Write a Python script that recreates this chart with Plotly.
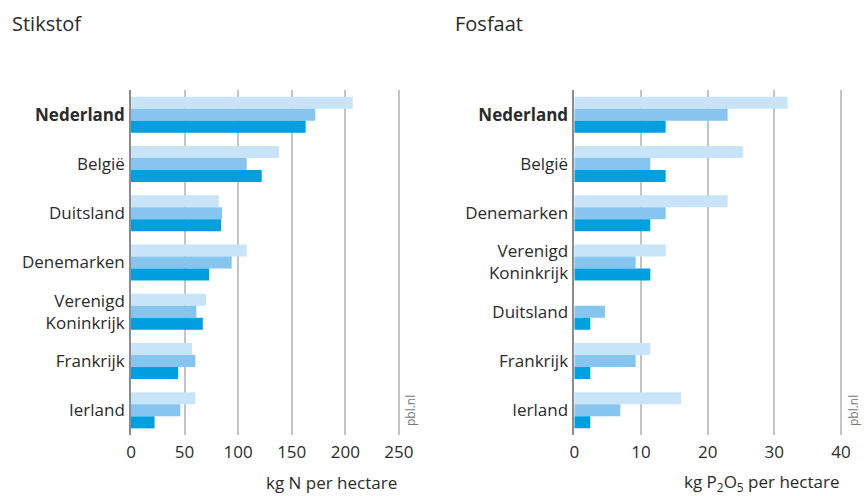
import plotly.graph_objects as go

# ---- data ----
landen_n = ["Nederland", "België", "Duitsland", "Denemarken",
            "Verenigd Koninkrijk", "Frankrijk", "Ierland"]
n_serie1 = [207, 138, 82, 108, 70, 57, 60]
n_serie2 = [172, 108, 85, 94, 61, 60, 46]
n_serie3 = [163, 122, 84, 73, 67, 44, 22]

landen_p = ["Nederland", "België", "Denemarken", "Verenigd Koninkrijk",
            "Duitsland", "Frankrijk", "Ierland"]
p_serie1 = [32, 25.3, 23, 13.7, 0, 11.4, 16]
p_serie2 = [23, 11.4, 13.7, 9.2, 4.6, 9.2, 6.9]
p_serie3 = [13.7, 13.7, 11.4, 11.4, 2.4, 2.4, 2.4]

serie_namen = ["Periode 1", "Periode 2", "Periode 3"]
kleuren = ["#c8e4f8", "#85c5ef", "#009fe0"]

n_ticks = [0, 50, 100, 150, 200, 250]
p_ticks = [0, 10, 20, 30, 40]


def label(c):
    if c == "Nederland":
        return "<b>Nederland</b>"
    if c == "Verenigd Koninkrijk":
        return "Verenigd<br>Koninkrijk"
    return c


FONT = "Open Sans"
TXT = "#2b2b2b"

W, H = 864, 496


def px(x):
    return x / W


def py(y):
    return 1 - y / H


fig = go.Figure()
for vals, name, col in zip([n_serie1, n_serie2, n_serie3], serie_namen, kleuren):
    fig.add_trace(go.Bar(y=landen_n, x=vals, orientation="h", name=name,
                         marker=dict(color=col, line=dict(width=0)),
                         xaxis="x", yaxis="y", showlegend=False))
for vals, name, col in zip([p_serie1, p_serie2, p_serie3], serie_namen, kleuren):
    fig.add_trace(go.Bar(y=landen_p, x=vals, orientation="h", name=name,
                         marker=dict(color=col, line=dict(width=0)),
                         xaxis="x2", yaxis="y2", showlegend=False))

y_dom = [py(435), py(90)]

xcommon = dict(showgrid=True, gridcolor="#c4c4c4", gridwidth=1.6,
               zeroline=False, showline=False, ticks="", automargin=False,
               ticklabelstandoff=5,
               tickfont=dict(family=FONT, size=17, color=TXT), fixedrange=True)
ycommon = dict(autorange="reversed", showgrid=False, zeroline=False,
               showline=True, linecolor="#8c8c8c", linewidth=1.6, ticks="",
               automargin=False, ticklabelstandoff=1, fixedrange=True,
               tickfont=dict(family=FONT, size=17, color=TXT))

fig.update_layout(
    width=W, height=H,
    margin=dict(l=0, r=0, t=0, b=0, pad=0, autoexpand=False),
    paper_bgcolor="white", plot_bgcolor="white",
    barmode="group", bargap=0.27, bargroupgap=0,
    font=dict(family=FONT, color=TXT),
    xaxis=dict(domain=[px(131), px(401)], range=[0, 252],
               tickvals=n_ticks, anchor="y", **xcommon),
    yaxis=dict(domain=y_dom, anchor="x", tickmode="array",
               tickvals=landen_n, ticktext=[label(c) for c in landen_n],
               **ycommon),
    xaxis2=dict(domain=[px(574.3), px(843)], range=[0, 40.3],
                tickvals=p_ticks, anchor="y2", **xcommon),
    yaxis2=dict(domain=y_dom, anchor="x2", tickmode="array",
                tickvals=landen_p, ticktext=[label(c) for c in landen_p],
                **ycommon),
)

annots = [
    dict(text="Stikstof", x=px(10), y=py(24), xanchor="left", yanchor="middle",
         font=dict(size=20, family=FONT, color=TXT)),
    dict(text="Fosfaat", x=px(453), y=py(24), xanchor="left", yanchor="middle",
         font=dict(size=20, family=FONT, color=TXT)),
    dict(text="kg N per hectare", x=px(399), y=py(482), xanchor="right",
         yanchor="middle", font=dict(size=17, family=FONT, color=TXT)),
    dict(text="kg P<sub>2</sub>O<sub>5</sub> per hectare", x=px(842), y=py(482),
         xanchor="right", yanchor="middle", font=dict(size=17, family=FONT, color=TXT)),
    dict(text="pbl.nl", x=px(410), y=py(411), textangle=-90, xanchor="center",
         yanchor="middle", font=dict(size=12, family=FONT, color="#777777")),
    dict(text="pbl.nl", x=px(853), y=py(411), textangle=-90, xanchor="center",
         yanchor="middle", font=dict(size=12, family=FONT, color="#777777")),
]
for a in annots:
    fig.add_annotation(xref="paper", yref="paper", showarrow=False, **a)

fig.write_html(
    "out.html",
    config={"displayModeBar": False},
    post_script="document.body.style.margin='0px';"
                "document.body.style.overflow='hidden';",
)
